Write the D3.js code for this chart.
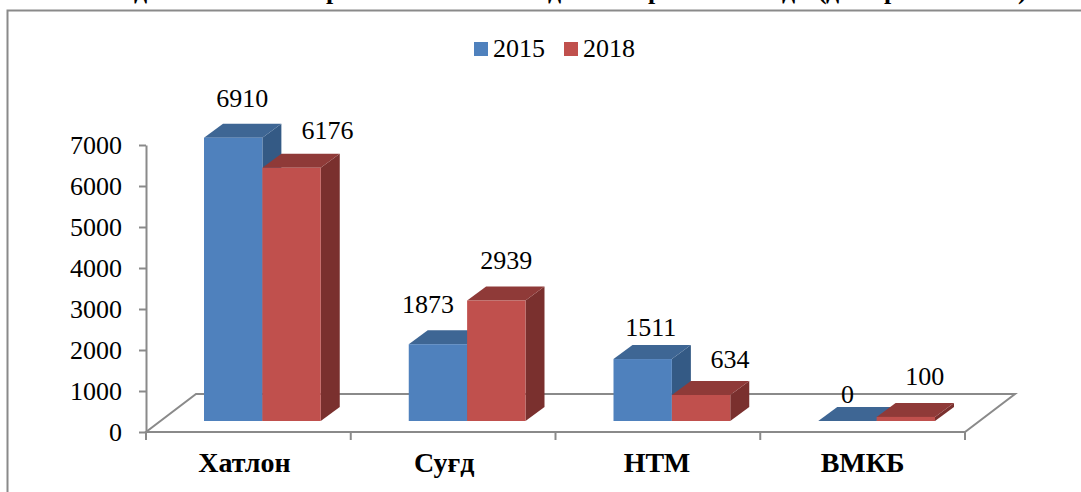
<!DOCTYPE html>
<html>
<head>
<meta charset="utf-8">
<script src="https://cdn.jsdelivr.net/npm/d3@7/dist/d3.min.js"></script>
<style>
  html, body { margin: 0; padding: 0; background: #fff; overflow: hidden; }
  svg { display: block; font-family: "Liberation Serif", serif; }
</style>
</head>
<body>
<div id="chart"></div>
<script>
// data
var categories = ["Хатлон", "Суғд", "НТМ", "ВМКБ"]
var seriesNames = ["2015", "2018"]
var values2015 = [6910, 1873, 1511, 0]
var values2018 = [6176, 2939, 634, 100]
var yTicks = [0, 1000, 2000, 3000, 4000, 5000, 6000, 7000]
var titleGlyphs = ["д", "р", "д", "р", "д", "(", "д", "р", ")"]

// layout
var width = 1081, height = 492
var frontY = 432, topY = 145
var axisLeft = 146, axisRight = 965
var floorDepth = {x: 50, y: 38}
var barDepth = {x: 19, y: 14}
var barLift = 11 // the bars stand on the floor, a bit behind its front edge
var barLeft = 58, barRight = 30

var colors = [
  {front: "#4f81bd", top: "#3e6694", side: "#345a85"},
  {front: "#c0504d", top: "#8f3a38", side: "#7a302e"}
]
var grey = "#8a8a8a"

// hand placed offsets of the labels, same as in the picture
var labelDx = [[9, 36], [-10, 10], [8, 29], [0, 19]]
var labelDy = [[-17, -15], [-17, -18], [-9, -13], [-4, -18]]
var catDx = [-4, -9, -1, 0]
var titleX = [134, 326, 548, 648, 782, 818, 826, 884, 1018]

var svg = d3.select("#chart").append("svg")
  .attr("width", width)
  .attr("height", height)

var x = d3.scaleBand()
  .domain(categories)
  .range([axisLeft, axisRight])

var inner = d3.scaleBand()
  .domain(seriesNames)
  .range([barLeft, x.bandwidth() - barRight])

var y = d3.scaleLinear()
  .domain([0, 7000])
  .range([frontY, topY])

// title, cut off by the top of the picture
svg.append("g").selectAll("text")
  .data(titleGlyphs)
  .enter().append("text")
  .attr("x", (d, i) => titleX[i])
  .attr("y", -1)
  .attr("font-size", 26)
  .attr("font-weight", "bold")
  .text(d => d)

// frame
svg.append("path")
  .attr("d", "M7.5," + height + "V10.5H" + width)
  .attr("fill", "none")
  .attr("stroke", grey)
  .attr("stroke-width", 2)

// floor
svg.append("path")
  .attr("d", d3.line()([
    [axisLeft, frontY],
    [axisRight, frontY],
    [axisRight + floorDepth.x, frontY - floorDepth.y],
    [axisLeft + floorDepth.x, frontY - floorDepth.y]
  ]) + "Z")
  .attr("fill", "#fff")
  .attr("stroke", grey)
  .attr("stroke-width", 2)

// y axis
var yAxis = svg.append("g")
  .attr("transform", "translate(" + axisLeft + ",0)")
  .call(d3.axisLeft(y).tickValues(yTicks).tickSize(7).tickSizeOuter(0).tickPadding(17).tickFormat(d3.format("d")))
yAxis.selectAll("line, path").attr("stroke", grey).attr("stroke-width", 2)
yAxis.selectAll("text").attr("font-size", 26).attr("font-family", "Liberation Serif").attr("fill", "#000")

// x axis
var xAxis = svg.append("g")
  .attr("transform", "translate(0," + frontY + ")")
  .call(d3.axisBottom(x).tickSize(0).tickPadding(20))
xAxis.select("path").remove()
xAxis.selectAll("text")
  .attr("dx", (d, i) => catDx[i])
  .attr("font-size", 28)
  .attr("font-weight", "bold")
  .attr("font-family", "Liberation Serif")
  .attr("fill", "#000")
xAxis.selectAll("line.edge")
  .data(d3.range(categories.length + 1))
  .enter().append("line")
  .attr("class", "edge")
  .attr("x1", d => axisLeft + d * x.step())
  .attr("x2", d => axisLeft + d * x.step())
  .attr("y1", 0)
  .attr("y2", 8)
  .attr("stroke", grey)
  .attr("stroke-width", 2)

// bars
var seriesValues = [values2015, values2018]
var groups = svg.selectAll("g.group")
  .data(categories)
  .enter().append("g")
  .attr("class", "group")
  .attr("transform", d => "translate(" + x(d) + ",0)")

groups.each(function (cat, c) {
  var g = d3.select(this)
  seriesNames.forEach(function (name, s) {
    var v = seriesValues[s][c]
    var x0 = inner(name), x1 = x0 + inner.bandwidth()
    var base = frontY - barLift
    var top = y(v) - barLift
    var dx = barDepth.x, dy = barDepth.y

    g.append("path") // side
      .attr("d", d3.line()([[x1, base], [x1 + dx, base - dy], [x1 + dx, top - dy], [x1, top]]) + "Z")
      .attr("fill", colors[s].side)
    g.append("path") // top
      .attr("d", d3.line()([[x0, top], [x0 + dx, top - dy], [x1 + dx, top - dy], [x1, top]]) + "Z")
      .attr("fill", colors[s].top)
    g.append("rect") // front
      .attr("x", x0)
      .attr("y", top)
      .attr("width", x1 - x0)
      .attr("height", base - top)
      .attr("fill", colors[s].front)
  })
})

// value labels
groups.each(function (cat, c) {
  var g = d3.select(this)
  seriesNames.forEach(function (name, s) {
    var v = seriesValues[s][c]
    g.append("text")
      .attr("x", inner(name) + inner.bandwidth() / 2 + labelDx[c][s])
      .attr("y", y(v) - barLift - barDepth.y + labelDy[c][s])
      .attr("text-anchor", "middle")
      .attr("font-size", 26)
      .text(v)
  })
})

// legend
var legend = svg.append("g").selectAll("g")
  .data(seriesNames)
  .enter().append("g")
  .attr("transform", (d, i) => "translate(" + (474 + i * 90) + ",42)")
legend.append("rect")
  .attr("width", 14)
  .attr("height", 14)
  .attr("fill", (d, i) => colors[i].front)
legend.append("text")
  .attr("x", 19)
  .attr("y", 15)
  .attr("font-size", 26)
  .text(d => d)
</script>
</body>
</html>
